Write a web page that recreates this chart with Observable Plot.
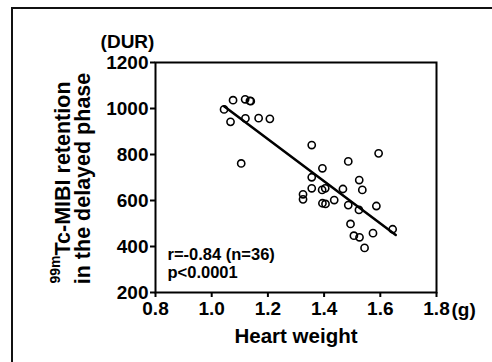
<!DOCTYPE html>
<html>
<head>
<meta charset="utf-8">
<script src="https://cdn.jsdelivr.net/npm/d3@7"></script>
<script src="https://cdn.jsdelivr.net/npm/@observablehq/plot@0.6"></script>
<style>
  html, body { margin: 0; padding: 0; background: #fff; }
  #wrap { position: relative; width: 492px; height: 362px; overflow: hidden; }
  #border { position: absolute; left: 11px; top: 7px; width: 600px; height: 600px;
            border-left: 2.5px solid #111; border-top: 2.5px solid #111; pointer-events: none; }
  svg text { font-family: "Liberation Sans", Arial, sans-serif; font-weight: bold; }
</style>
</head>
<body>
<div id="wrap"><div id="border"></div></div>
<script>
// Heart weight (g)
const heartWeight = [1.044, 1.076, 1.067, 1.119, 1.136, 1.139, 1.120, 1.167, 1.207, 1.105,
  1.356, 1.394, 1.356, 1.356, 1.325, 1.325, 1.393, 1.404, 1.394, 1.405,
  1.436, 1.467, 1.486, 1.486, 1.525, 1.536, 1.524, 1.494, 1.506, 1.526,
  1.544, 1.574, 1.586, 1.594, 1.644];
// 99mTc-MIBI retention in the delayed phase (DUR)
const retention = [996, 1036, 942, 1040, 1033, 1032, 957, 958, 955, 761,
  841, 740, 701, 653, 627, 605, 646, 653, 588, 585,
  602, 650, 770, 580, 689, 646, 559, 498, 447, 440,
  394, 458, 576, 805, 475];
// regression line end points
const fitX = [1.044, 1.655];
const fitY = [1010, 450];
const xTicks = [0.8, 1.0, 1.2, 1.4, 1.6, 1.8];
const yTicks = [200, 400, 600, 800, 1000, 1200];
const stats = ["r=-0.84 (n=36)", "p<0.0001"];

const points = heartWeight.map((x, i) => ({x, y: retention[i]}));
const fit = fitX.map((x, i) => ({x, y: fitY[i]}));

const chart = Plot.plot({
  width: 492,
  height: 362,
  marginLeft: 155,
  marginRight: 56,
  marginTop: 62,
  marginBottom: 70,
  style: {fontFamily: "'Liberation Sans', Arial, sans-serif", color: "black", background: "transparent"},
  x: {domain: [0.8, 1.8]},
  y: {domain: [200, 1200]},
  marks: [
    Plot.axisX({ticks: xTicks, tickFormat: d3.format(".1f"), tickSize: 5, tickPadding: 4,
      fontSize: 19, fontWeight: "bold", strokeWidth: 2, label: null}),
    Plot.axisY({ticks: yTicks, tickFormat: d3.format("d"), tickSize: 5, tickPadding: 2,
      fontSize: 19, fontWeight: "bold", strokeWidth: 2, label: null}),
    Plot.frame({stroke: "black", strokeWidth: 2}),
    Plot.line(fit, {x: "x", y: "y", stroke: "black", strokeWidth: 2.5}),
    Plot.dot(points, {x: "x", y: "y", r: 3.6, stroke: "black", strokeWidth: 1.6, fill: "none"}),
    Plot.text([stats[0]], {frameAnchor: "bottom-left", dx: 12, dy: -33, textAnchor: "start",
      lineAnchor: "bottom", fontSize: 16.5, fontWeight: "bold"}),
    Plot.text([stats[1]], {frameAnchor: "bottom-left", dx: 12, dy: -15, textAnchor: "start",
      lineAnchor: "bottom", fontSize: 16.5, fontWeight: "bold"}),
    Plot.text(["(DUR)"], {frameAnchor: "top-left", dx: -28, dy: -15, textAnchor: "middle",
      lineAnchor: "bottom", fontSize: 19, fontWeight: "bold"}),
    Plot.text(["(g)"], {frameAnchor: "bottom-right", dx: 15, dy: 23, textAnchor: "start",
      lineAnchor: "bottom", fontSize: 19, fontWeight: "bold"}),
    Plot.text(["Heart weight"], {frameAnchor: "bottom", dy: 50, textAnchor: "middle",
      lineAnchor: "bottom", fontSize: 20.5, fontWeight: "bold"}),
    Plot.text(["99mTc-MIBI retention"], {frameAnchor: "left", dx: -89, dy: 5, rotate: -90,
      textAnchor: "middle", lineAnchor: "bottom", fontSize: 21.5, fontWeight: "bold"}),
    Plot.text(["in the delayed phase"], {frameAnchor: "left", dx: -66, dy: 1, rotate: -90,
      textAnchor: "middle", lineAnchor: "bottom", fontSize: 21.5, fontWeight: "bold"})
  ]
});

// superscript for the isotope label
d3.select(chart).selectAll("text").each(function() {
  if (this.textContent === "99mTc-MIBI retention") {
    const t = d3.select(this);
    t.text(null);
    t.append("tspan").attr("font-size", 14).attr("dy", "-0.5em").text("99m");
    t.append("tspan").attr("dy", "0.5em").text("Tc-MIBI retention");
  }
});

document.getElementById("wrap").prepend(chart);
</script>
</body>
</html>
